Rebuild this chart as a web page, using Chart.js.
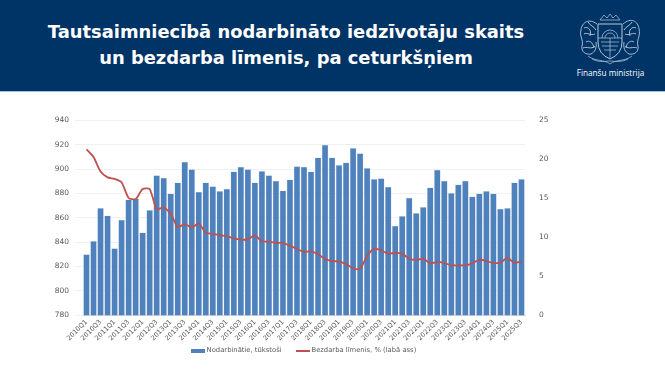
<!DOCTYPE html>
<html lang="lv"><head><meta charset="utf-8">
<script src="https://cdn.jsdelivr.net/npm/chart.js@4"></script>
<style>
html,body{margin:0;padding:0;background:#fff;overflow:hidden}
#wrap{position:relative;width:665px;height:375px;overflow:hidden}
#head{position:absolute;left:0;top:0;width:665px;height:91px;background:#003366;border-bottom:1px solid #9dc3e6}
#title{position:absolute;left:0;width:572px;top:19px;text-align:center;color:#fff;font:bold 17.9px/25.5px "DejaVu Sans",sans-serif}
#fm{position:absolute;left:558px;width:105px;top:67px;text-align:center;color:#fff;font:8.2px "Open Sans",sans-serif}
#logo{position:absolute;left:576px;top:12px}
#c{position:absolute;left:0;top:92px}
</style></head><body>
<div id="wrap">
<div id="head">
<div id="title">Tautsaimniecībā nodarbināto iedzīvotāju skaits<br>un bezdarba līmenis, pa ceturkšņiem</div>
<svg id="logo" width="68" height="54" viewBox="0 0 68 54" fill="none" stroke="#b9c8da" stroke-width=".7">
<path d="M24 8 L28 3 L31 6 L34 2 L37 6 L40 3 L44 8 Z"/>
<path d="M22 12 H46 V30 Q46 42 34 47 Q22 42 22 30 Z" stroke-width="1"/>
<path d="M26 26 A8 8 0 0 1 42 26 M29 26 A5 5 0 0 1 39 26 M22 26 H46 M34 26 V46 M25 30 H43 M26 34 H42 M28 38 H40"/>
<path d="M21 12 C13 6 6 10 5 18 C3 24 8 28 6 34 C5 40 10 43 15 42 C19 40 21 36 20 30 M8 16 C12 14 16 18 14 24 M10 30 C13 28 17 30 18 36 M8 22 C11 20 15 24 19 22 M7 36 C11 34 15 38 19 34 M12 10 C14 14 18 14 20 18" stroke-width=".9"/>
<path d="M47 12 C55 5 62 9 63 17 C65 24 60 28 62 34 C63 40 58 43 53 42 C49 40 47 36 48 30 M60 16 C56 14 52 18 54 24 M58 30 C55 28 51 30 50 36 M60 22 C57 20 53 24 49 22 M61 36 C57 34 53 38 49 34 M56 10 C54 14 50 14 48 18" stroke-width=".9"/>
<path d="M12 44 C20 50 28 47 34 52 C40 47 48 50 56 44 M16 47 C24 51 30 49 34 49 C38 49 44 51 52 47"/>
</svg>
<div id="fm">Finanšu ministrija</div>
</div>
<canvas id="c" width="665" height="289"></canvas>
</div>
<script>
const categories=["2010Q1","2010Q2","2010Q3","2010Q4","2011Q1","2011Q2","2011Q3","2011Q4","2012Q1","2012Q2","2012Q3","2012Q4","2013Q1","2013Q2","2013Q3","2013Q4","2014Q1","2014Q2","2014Q3","2014Q4","2015Q1","2015Q2","2015Q3","2015Q4","2016Q1","2016Q2","2016Q3","2016Q4","2017Q1","2017Q2","2017Q3","2017Q4","2018Q1","2018Q2","2018Q3","2018Q4","2019Q1","2019Q2","2019Q3","2019Q4","2020Q1","2020Q2","2020Q3","2020Q4","2021Q1","2021Q2","2021Q3","2021Q4","2022Q1","2022Q2","2022Q3","2022Q4","2023Q1","2023Q2","2023Q3","2023Q4","2024Q1","2024Q2","2024Q3","2024Q4","2025Q1","2025Q2","2025Q3"];
const employed=[830,841,868,862,835,858.5,875,876,848,866.5,895,893,880,889,906,900,881.5,889,886,882,884,898,902,900,889,898.5,895,890.5,882.5,891.5,902.5,902,898,909.5,920,909.5,903.5,905.5,917.5,913,901,892,892.5,885.5,853.5,861.5,876.5,864,869,885,899.5,890.5,880.5,887.5,890.5,877.5,880,882,880,867.5,868,889,892];
const unemployment=[21.3,20.3,18.45,17.7,17.5,17.07,15.05,14.9,16.2,16.2,13.6,13.85,13.05,11.3,11.7,11.25,11.8,10.6,10.45,10.25,10.15,9.85,9.7,9.75,10.25,9.5,9.45,9.27,9.3,8.9,8.5,8.15,8.2,7.85,7.2,6.95,6.9,6.55,6.05,5.95,7.6,8.55,8.35,7.9,8.0,7.9,7.25,7.1,7.25,6.65,6.85,6.7,6.4,6.4,6.4,6.65,7.15,6.95,6.7,6.75,7.35,6.7,6.9];
const seriesNames=["Nodarbinātie, tūkstoši","Bezdarba līmenis, % (labā ass)"];
const txt="#595959",fnt={family:"'DejaVu Sans',sans-serif",size:7.5},small={family:"'DejaVu Sans',sans-serif",size:6.6};
function swatch(color,h){const s=document.createElement("canvas");s.width=14;s.height=h;const g=s.getContext("2d");g.fillStyle=color;g.fillRect(0,0,14,h);return s;}
const legendShift={id:"legendShift",afterLayout(ch){const l=ch.legend;l.left-=28;l.right-=28;l.top-=17;l.bottom-=17;}};
Chart.defaults.animation=false;
new Chart(document.getElementById("c"),{
 type:"bar",
 plugins:[legendShift],
 data:{labels:categories,datasets:[
  {type:"line",label:seriesNames[1],data:unemployment,yAxisID:"y2",borderColor:"#c0504d",backgroundColor:"#c0504d",borderWidth:1.8,pointRadius:0,tension:.2,order:1,pointStyle:swatch("#c0504d",2)},
  {type:"bar",label:seriesNames[0],data:employed,yAxisID:"y",backgroundColor:"#4f81bd",borderColor:"#c9d8ea",borderWidth:{left:.5,right:.5,top:.5,bottom:0},barPercentage:.94,categoryPercentage:1,order:2,pointStyle:swatch("#4f81bd",4)}
 ]},
 options:{responsive:false,
  layout:{padding:{top:28.5,left:0,right:0,bottom:0}},
  plugins:{tooltip:{enabled:false},
   legend:{position:"bottom",reverse:true,labels:{usePointStyle:true,pointStyleWidth:10.5,boxWidth:14,boxHeight:6,font:{family:fnt.family,size:6.8},color:txt,padding:16}}},
  scales:{
   x:{grid:{display:false},border:{color:"#d9d9d9"},
      ticks:{autoSkip:false,maxRotation:45,minRotation:45,font:small,color:txt,padding:-5,
             callback(v,i){return i%2?"":categories[i];}},
      afterFit(a){a.height=33;}},
   y:{position:"left",min:780,max:940,grid:{color:"#f0f0f0",lineWidth:1},border:{display:false},
      ticks:{stepSize:20,font:fnt,color:txt,padding:6},afterFit(a){a.width=83;}},
   y2:{position:"right",min:0,max:25,grid:{display:false},border:{display:false},
      ticks:{stepSize:5,font:fnt,color:txt,padding:6},afterFit(a){a.width=140;}}
  }}
});
</script>
</body></html>
